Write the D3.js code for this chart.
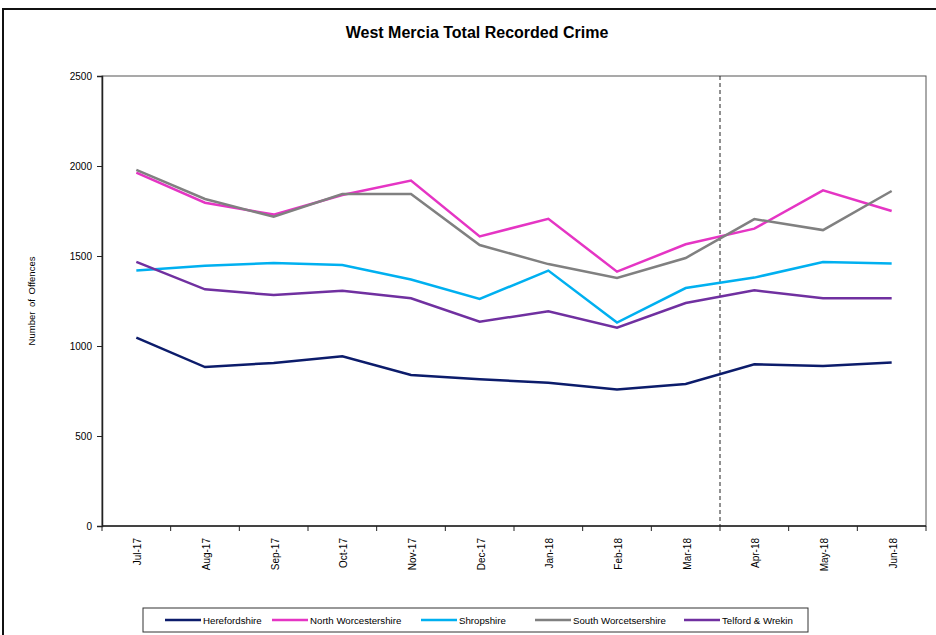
<!DOCTYPE html>
<html>
<head>
<meta charset="utf-8">
<script src="https://cdn.jsdelivr.net/npm/d3@7"></script>
<style>
body { margin: 0; background: #fff; }
text { font-family: "Liberation Sans", Arial, sans-serif; }
.axis path, .axis line { stroke: #222; }
</style>
</head>
<body>
<svg width="936" height="635"></svg>
<script>
var months = ['Jul-17', 'Aug-17', 'Sep-17', 'Oct-17', 'Nov-17', 'Dec-17',
    'Jan-18', 'Feb-18', 'Mar-18', 'Apr-18', 'May-18', 'Jun-18'];

var herefordshire = [1046, 883, 906, 943, 839, 815, 796, 759, 789, 898, 889, 909];
var northWorcs = [1963, 1796, 1730, 1839, 1919, 1609, 1707, 1413, 1565, 1652, 1865, 1750];
var shropshire = [1419, 1446, 1461, 1450, 1369, 1261, 1419, 1130, 1322, 1380, 1467, 1459];
var southWorcs = [1978, 1817, 1718, 1844, 1844, 1561, 1455, 1378, 1489, 1705, 1644, 1861];
var telford = [1467, 1315, 1283, 1307, 1265, 1135, 1193, 1102, 1239, 1309, 1265, 1265];

var seriesNames = ['Herefordshire', 'North Worcestershire', 'Shropshire', 'South Worcetsershire', 'Telford & Wrekin'];
var seriesValues = [herefordshire, northWorcs, shropshire, southWorcs, telford];
var seriesColors = ['#0c1c6b', '#e535c4', '#00b0f0', '#808080', '#7030a0'];

var yTicks = [0, 500, 1000, 1500, 2000, 2500];
var splitMonth = 'Apr-18';

var svg = d3.select('svg');

var padding = {t: 76, r: 10, b: 109, l: 102};
var plotWidth = 926 - padding.l;
var plotHeight = 526 - padding.t;

// outer chart frame (runs past the window on right and bottom)
svg.append('rect')
    .attr('x', 3).attr('y', 9)
    .attr('width', 1000).attr('height', 700)
    .style('fill', 'none')
    .style('stroke', '#111')
    .style('stroke-width', 2);

svg.append('text')
    .attr('x', 477).attr('y', 38)
    .attr('text-anchor', 'middle')
    .style('font-weight', 'bold')
    .style('font-size', '16px')
    .text('West Mercia Total Recorded Crime');

var xScale = d3.scaleBand()
    .domain(months)
    .range([0, plotWidth]);

var yScale = d3.scaleLinear()
    .domain([0, 2500])
    .range([plotHeight, 0]);

var plot = svg.append('g')
    .attr('transform', 'translate(' + [padding.l, padding.t] + ')');

plot.append('rect')
    .attr('width', plotWidth)
    .attr('height', plotHeight)
    .style('fill', 'none')
    .style('stroke', '#555')
    .style('stroke-width', 1);

// dashed split line between Mar-18 and Apr-18
plot.append('line')
    .attr('x1', xScale(splitMonth)).attr('x2', xScale(splitMonth))
    .attr('y1', 0).attr('y2', plotHeight)
    .style('stroke', '#222')
    .style('stroke-dasharray', '4,3');

var yAxis = d3.axisLeft(yScale)
    .tickValues(yTicks)
    .tickFormat(d3.format('d'))
    .tickSize(5)
    .tickPadding(5);

plot.append('g')
    .attr('class', 'y axis')
    .call(yAxis)
    .call(function(g) {
        g.select('.domain').style('stroke-width', 1.5);
        g.selectAll('text').style('font-size', '10px').style('fill', '#000');
    });

// x ticks on category boundaries, labels at centres
var xAxisLine = plot.append('g')
    .attr('class', 'x axis')
    .attr('transform', 'translate(0,' + plotHeight + ')');

xAxisLine.append('line')
    .attr('x1', 0).attr('x2', plotWidth)
    .style('stroke', '#222')
    .style('stroke-width', 1.5);

xAxisLine.selectAll('.bound')
    .data(months.concat(['end']))
    .enter()
    .append('line')
    .attr('class', 'bound')
    .attr('x1', function(d, i) { return i * xScale.step(); })
    .attr('x2', function(d, i) { return i * xScale.step(); })
    .attr('y1', 0).attr('y2', 5)
    .style('stroke', '#222');

xAxisLine.selectAll('.xlabel')
    .data(months)
    .enter()
    .append('text')
    .attr('class', 'xlabel')
    .attr('transform', function(d) {
        var tx = xScale(d) + xScale.bandwidth() / 2 + 5;
        return 'translate(' + tx + ',12) rotate(-90)';
    })
    .attr('text-anchor', 'end')
    .style('font-size', '10px')
    .text(function(d) { return d; });

svg.append('text')
    .attr('transform', 'translate(35,' + (padding.t + plotHeight / 2) + ') rotate(-90)')
    .attr('text-anchor', 'middle')
    .style('font-size', '9.5px')
    .style('word-spacing', '2px')
    .text('Number of Offences');

var line = d3.line()
    .x(function(d, i) { return xScale(months[i]) + xScale.bandwidth() / 2; })
    .y(function(d) { return yScale(d); });

plot.selectAll('.line-plot')
    .data(seriesValues)
    .enter()
    .append('path')
    .attr('class', 'line-plot')
    .attr('d', line)
    .style('fill', 'none')
    .style('stroke-width', 2.5)
    .style('stroke', function(d, i) { return seriesColors[i]; });

// legend
var legendX = [165, 272, 421, 535, 684];
var legend = svg.append('g');

legend.append('rect')
    .attr('x', 143).attr('y', 608)
    .attr('width', 665).attr('height', 24)
    .style('fill', '#fff')
    .style('stroke', '#333');

var items = legend.selectAll('.legend-item')
    .data(seriesNames)
    .enter()
    .append('g')
    .attr('class', 'legend-item')
    .attr('transform', function(d, i) { return 'translate(' + [legendX[i], 620] + ')'; });

items.append('line')
    .attr('x1', 0).attr('x2', 36)
    .style('stroke-width', 2.5)
    .style('stroke', function(d, i) { return seriesColors[i]; });

items.append('text')
    .attr('x', 38).attr('y', 4)
    .style('font-size', '9.7px')
    .text(function(d) { return d; });
</script>
</body>
</html>
